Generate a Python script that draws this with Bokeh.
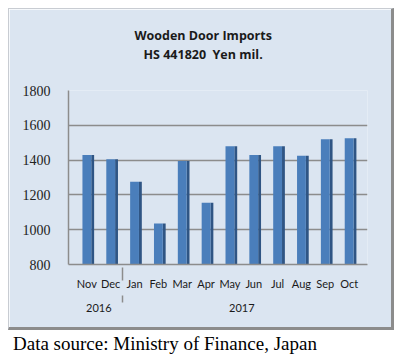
from bokeh.plotting import figure
from bokeh.models import FactorRange, FixedTicker, Div, Title, CategoricalAxis
from bokeh.layouts import column
from bokeh.transform import dodge
from bokeh.embed import file_html
from bokeh.resources import INLINE

years = ["2016", "2016", "2017", "2017", "2017", "2017", "2017", "2017", "2017", "2017", "2017", "2017"]
months = ["Nov", "Dec", "Jan", "Feb", "Mar", "Apr", "May", "Jun", "Jul", "Aug", "Sep", "Oct"]
values = [1430, 1405, 1275, 1035, 1395, 1155, 1480, 1430, 1480, 1425, 1520, 1525]
y_ticks = [800, 1000, 1200, 1400, 1600, 1800]
title_line1 = "Wooden Door Imports"
title_line2 = "HS 441820  Yen mil."
caption = "Data source: Ministry of Finance, Japan"

factors = list(zip(years, months))
src = dict(x=factors, top=values)

BG = "#dbe5f1"
xr = FactorRange(*factors, group_padding=0, factor_padding=0,
                 range_padding=0.27, range_padding_units="absolute")
p = figure(x_range=xr, y_range=(800, 1800), width=386, height=322, title=None,
           output_backend="svg", toolbar_location=None,
           min_border_left=59, min_border_right=28, min_border_top=81, min_border_bottom=67,
           background_fill_color=BG, border_fill_color=BG,
           outline_line_color=None,
           styles={"border-top": "1px solid #c8ccd2", "border-left": "1px solid #c8ccd2",
                   "border-right": "3px solid #8c8c8c", "border-bottom": "3px solid #8c8c8c"})

# title: blank spacer next to the frame, then the two title lines
title_style = dict(align="left", text_font="Open Sans", text_font_size="12.5px",
                   text_font_style="bold", text_color="#1a1a1a")
p.add_layout(Title(text=" ", text_color=BG, text_font="Open Sans",
                   text_font_size="12.5px", standoff=9), "above")
p.add_layout(Title(text=title_line2.replace("  ", "\u00a0\u00a0"), offset=75,
                   standoff=0, **title_style), "above")
p.add_layout(Title(text=title_line1, offset=66, standoff=0, **title_style), "above")

# bar side (darker) and front face
p.vbar(x=dodge("x", 0.245, range=xr), top="top", bottom=800, width=0.12,
       source=src, fill_color="#2f5584", line_color=None)
p.vbar(x="x", top="top", bottom=800, width=0.37, source=src,
       fill_color="#4a7ebb", line_color=None)

p.yaxis.ticker = FixedTicker(ticks=y_ticks)
p.yaxis.major_tick_line_color = None
p.yaxis.minor_tick_line_color = None
p.yaxis.axis_line_color = "#8c8c8c"
p.yaxis.axis_line_width = 1.5
p.yaxis.major_label_text_font = "Liberation Serif"
p.yaxis.major_label_text_font_size = "14px"
p.yaxis.major_label_text_color = "#222222"
p.yaxis.major_label_standoff = 12

p.ygrid.grid_line_color = "#8c8c8c"
p.ygrid.grid_line_width = 1.5
p.xgrid.grid_line_color = None

# first x axis: month names (year level kept tiny and invisible)
ax = p.xaxis[0]
ax.axis_line_color = "#8c8c8c"
ax.axis_line_width = 1.5
ax.major_tick_line_color = None
ax.minor_tick_line_color = None
ax.major_label_text_font = "Lato"
ax.major_label_text_font_size = "11px"
ax.major_label_text_color = "#1a1a1a"
ax.major_label_standoff = 6
ax.group_text_font_size = "1px"
ax.group_text_color = None
ax.separator_line_color = "#8c8c8c"
ax.separator_line_width = 1.5

# second x axis: year groups (month level invisible, used as spacing)
ax2 = CategoricalAxis(axis_line_color=None, major_tick_line_color=None,
                      minor_tick_line_color=None,
                      major_label_text_font="Lato", major_label_text_font_size="11px",
                      major_label_text_color=None, major_label_standoff=5,
                      group_text_font="Lato", group_text_font_size="11px",
                      group_text_font_style="normal", group_text_color="#1a1a1a",
                      separator_line_color="#8c8c8c", separator_line_width=1.5)
p.add_layout(ax2, "below")

cap = Div(text=caption, styles={"font-family": "Liberation Serif", "font-size": "19px",
                                "color": "#000000", "margin-top": "0px", "white-space": "nowrap"})

layout = column(p, cap, spacing=0)
layout.margin = (8, 0, 0, 8)
open("out.html", "w").write(file_html(layout, INLINE))
